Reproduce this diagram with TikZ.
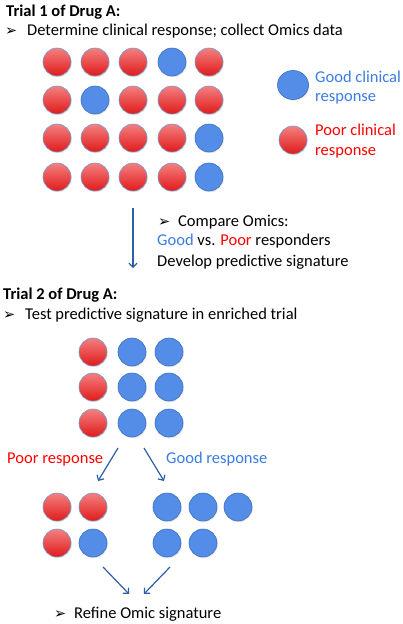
\documentclass[tikz,border=0pt]{standalone}
\usepackage{fontspec}
\setmainfont{Carlito}
\newfontfamily\symfont{DejaVu Sans}
\usetikzlibrary{arrows.meta,shadows,shapes.geometric}
\definecolor{ballred}{RGB}{224,26,26}
\definecolor{ballpink}{RGB}{244,128,128}
\definecolor{ballblue}{RGB}{84,141,232}
\definecolor{balledge}{RGB}{60,110,190}
\definecolor{txtblue}{RGB}{58,125,225}
\definecolor{txtred}{RGB}{255,0,0}
\definecolor{arrowblue}{RGB}{46,94,165}
\tikzset{
  ball/.style={circle, minimum size=28pt, inner sep=0pt, draw=balledge, line width=0.6pt,
    drop shadow={opacity=0.2, shadow xshift=0.8pt, shadow yshift=-1.2pt}},
  redball/.style={ball, top color=ballpink, bottom color=ballred, draw=balledge!70},
  blueball/.style={ball, fill=ballblue},
  txt/.style={anchor=base west, inner sep=0pt, font=\fontsize{16.5}{20}\selectfont},
  ttl/.style={txt, font=\fontsize{16.5}{20}\selectfont\bfseries},
  bul/.style={anchor=base west, inner sep=0pt, font=\symfont\fontsize{14.5}{16}\selectfont},
  arr/.style={draw=arrowblue, line width=1.2pt, -{Straight Barb[length=4pt,width=8pt]}},
}
\begin{document}
\begin{tikzpicture}[x=1pt,y=-1pt]
\useasboundingbox[fill=white] (0,0) rectangle (403,624);
% Trial 1
\node[ttl] (t1) at (6,16) {Trial 1 of Drug A:};
\node[bul] (t1bul) at (5,35) {➢};
\node[txt] (t1b) at (27,35) {Determine clinical response; collect Omics data};
% grid row 1
\node[redball] (a11) at (57,62) {};
\node[redball] (a12) at (95,62) {};
\node[redball] (a13) at (133,62) {};
\node[blueball] (a14) at (172,62) {};
\node[redball] (a15) at (209,62) {};
% row 2
\node[redball] (a21) at (57,100) {};
\node[blueball] (a22) at (95,100) {};
\node[redball] (a23) at (133,100) {};
\node[redball] (a24) at (172,100) {};
\node[redball] (a25) at (209,100) {};
% row 3
\node[redball] (a31) at (57,138) {};
\node[redball] (a32) at (95,138) {};
\node[redball] (a33) at (133,138) {};
\node[redball] (a34) at (172,138) {};
\node[blueball] (a35) at (209,138) {};
% row 4
\node[redball] (a41) at (57,177) {};
\node[redball] (a42) at (95,177) {};
\node[redball] (a43) at (133,177) {};
\node[redball] (a44) at (172,177) {};
\node[blueball] (a45) at (209,177) {};
% legend
\node[blueball, ellipse, minimum width=31pt, minimum height=29pt] (lg) at (293,85) {};
\node[redball] (lp) at (293,140) {};
\node[txt, text=txtblue] (lgt1) at (315,82) {Good clinical};
\node[txt, text=txtblue] (lgt2) at (315,101) {response};
\node[txt, text=txtred] (lpt1) at (315,135) {Poor clinical};
\node[txt, text=txtred] (lpt2) at (315,155) {response};
% arrow 1
\coordinate (a1s) at (133,208);
\coordinate (a1e) at (133,268);
\draw[arr] (a1s) -- (a1e);
\node[bul] (cmpbul) at (158,226) {➢};
\node[txt] (cmp) at (178,226) {Compare Omics:};
\node[txt] (gvp) at (157,245) {\textcolor{txtblue}{Good} vs. \textcolor{txtred}{Poor} responders};
\node[txt] (dev) at (157,266) {Develop predictive signature};
% Trial 2
\node[ttl] (t2) at (3,299) {Trial 2 of Drug A:};
\node[bul] (t2bul) at (3,319) {➢};
\node[txt] (t2b) at (25,319) {Test predictive signature in enriched trial};
\node[redball] (b11) at (93,352) {};
\node[blueball] (b12) at (132,352) {};
\node[blueball] (b13) at (169,352) {};
\node[redball] (b21) at (93,387) {};
\node[blueball] (b22) at (132,387) {};
\node[blueball] (b23) at (169,387) {};
\node[redball] (b31) at (93,423) {};
\node[blueball] (b32) at (132,423) {};
\node[blueball] (b33) at (169,423) {};
\coordinate (l1s) at (118,448);
\coordinate (l1e) at (98,481);
\coordinate (r1s) at (144,448);
\coordinate (r1e) at (164,481);
\draw[arr] (l1s) -- (l1e);
\draw[arr] (r1s) -- (r1e);
\node[txt, text=txtred] (pr) at (7,463) {Poor response};
\node[txt, text=txtblue] (gr) at (166,463) {Good response};
% bottom groups
\node[redball] (c11) at (57,507) {};
\node[redball] (c12) at (93,507) {};
\node[redball] (c21) at (57,543) {};
\node[blueball] (c22) at (93,543) {};
\node[blueball] (d11) at (167,507) {};
\node[blueball] (d12) at (203,507) {};
\node[blueball] (d13) at (238,507) {};
\node[blueball] (d21) at (167,543) {};
\node[blueball] (d22) at (203,543) {};
\coordinate (l2s) at (103,567);
\coordinate (l2e) at (129,594);
\coordinate (r2s) at (170,567);
\coordinate (r2e) at (144,594);
\draw[arr] (l2s) -- (l2e);
\draw[arr] (r2s) -- (r2e);
\node[bul] (refbul) at (54,618) {➢};
\node[txt] (ref) at (74,618) {Refine Omic signature};
\end{tikzpicture}
\end{document}
